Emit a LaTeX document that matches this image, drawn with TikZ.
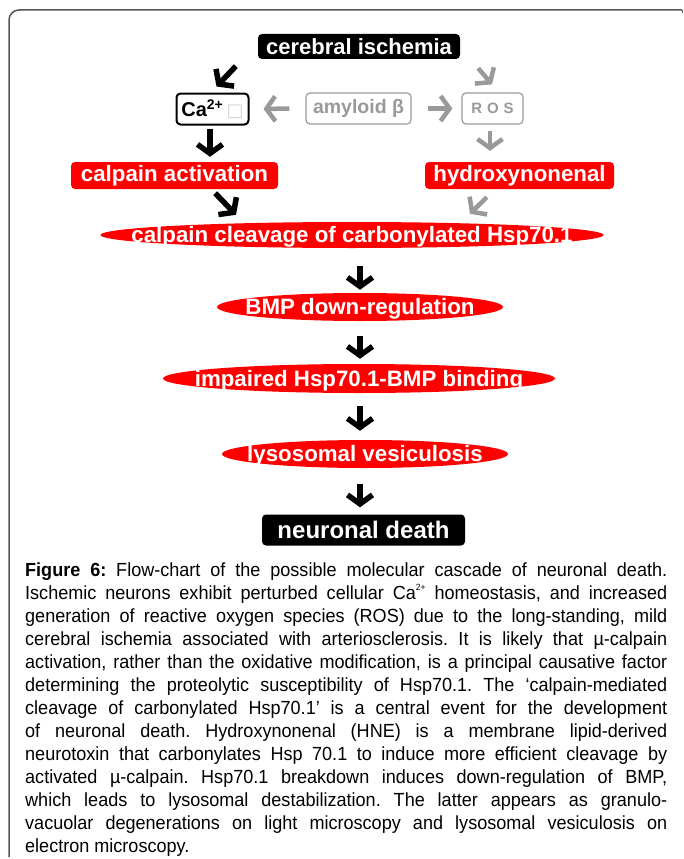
\documentclass[tikz,border=0pt]{standalone}
\usepackage{fontspec}
\setmainfont{Liberation Sans}
\newfontfamily\capfont{Liberation Sans}[FakeStretch=0.95]
\newfontfamily\symfont{DejaVu Sans}
\usetikzlibrary{arrows.meta,shapes.geometric}
\definecolor{lgray}{HTML}{999999}
\definecolor{framegray}{HTML}{555555}
\begin{document}
\begin{tikzpicture}[x=1pt,y=-1pt,
  lbl/.style={inner sep=0pt, font=\bfseries\fontsize{22.3}{22}\selectfont},
  blackbox/.style={lbl, fill=black, text=white, rounded corners=4pt},
  redbox/.style={lbl, fill=red, text=white, rounded corners=4pt},
  oval/.style 2 args={lbl, text=white, text depth=1pt, minimum width=#1, minimum height=#2,
    path picture={\fill[red] (path picture bounding box.center) ellipse [x radius=#1/2, y radius=#2/2];}},
  outlinebox/.style={lbl, draw, rounded corners=4pt},
  barrow/.style={line width=5.5pt, -{Straight Barb[length=9pt,width=25pt]}},
  garrow/.style={barrow, lgray, line width=4.5pt}
]
\useasboundingbox (0,0) rectangle (683,859);
% frame
\draw[framegray, line width=1.5pt, rounded corners=10pt] (9,857) -- (9,10) -- (682,10);
\draw[framegray, line width=1pt] (682,10) -- (682,13);

% nodes
\node[blackbox, minimum width=202pt, minimum height=25pt, font=\bfseries\fontsize{22}{22}\selectfont] (ci) at (359,46.5) {cerebral ischemia};
\node[outlinebox, draw=black, line width=2pt, minimum width=72pt, minimum height=31pt, font=\bfseries\fontsize{20}{20}\selectfont] (ca) at (212.5,109)
  {Ca\textsuperscript{2+}\,{\symfont\mdseries\color{gray!35}\fontsize{18}{18}\selectfont □}};
\node[outlinebox, draw=lgray, line width=1.2pt, text=lgray, minimum width=105pt, minimum height=31pt, font=\bfseries\fontsize{19.5}{19.5}\selectfont] (amy) at (358.5,108.5) {amyloid β};
\node[outlinebox, draw=lgray, line width=1.2pt, text=lgray, minimum width=61pt, minimum height=31pt, font=\bfseries\fontsize{15}{15}\selectfont] (ros) at (492.5,108.5) {R\,\,O\,\,S};
\node[redbox, minimum width=207pt, minimum height=27pt] (calp) at (174.5,175.5) {calpain activation};
\node[redbox, minimum width=189pt, minimum height=27pt] (hne) at (519.5,175.5) {hydroxynonenal};
\node[oval={503pt}{26pt}] (cl) at (352,235) {calpain cleavage of carbonylated Hsp70.1};
\node[oval={286pt}{28pt}] (bmp) at (360,307) {BMP down-regulation};
\node[oval={392pt}{29pt}] (imp) at (359,378.5) {impaired Hsp70.1-BMP binding};
\node[oval={286pt}{28pt}] (lys) at (365,454) {lysosomal vesiculosis};
\node[blackbox, minimum width=203pt, minimum height=31pt, font=\bfseries\fontsize{24}{24}\selectfont] (nd) at (363.5,530) {neuronal death};

% connectors
\draw[barrow] ([shift={(-22,7)}]ci.south west) -- ([shift={(-33,-6)}]ca.north east);
\draw[garrow] ([shift={(18,9)}]ci.south east) -- ([shift={(-0.5,-8)}]ros.north);
\draw[garrow] ([shift={(-16,0)}]amy.west) -- ([shift={(14,0)}]ca.east);
\draw[garrow] ([shift={(16,0)}]amy.east) -- ([shift={(-9,0)}]ros.west);
\draw[barrow] ([shift={(-2.5,3)}]ca.south) -- ([shift={(-2.5,-5)}]ca.south |- calp.north);
\draw[garrow] ([shift={(-2.5,6)}]ros.south) -- ([shift={(-2.5,-11)}]ros.south |- hne.north);
\draw[barrow] ([shift={(-63,4)}]calp.south east) -- ([shift={(-116,-7)}]cl.north);
\draw[garrow] ([shift={(62,8)}]hne.south west) -- ([shift={(118,-8)}]cl.north);
\draw[barrow] ([yshift=-18pt]bmp.north |- cl.south) -- ([yshift=3pt]bmp.north);
\draw[barrow] ([yshift=-15pt]bmp.south) -- ([yshift=5pt]bmp.south |- imp.north);
\draw[barrow] ([yshift=-13pt]bmp.south |- imp.south) -- ([yshift=9pt]bmp.south |- lys.north);
\draw[barrow] ([yshift=-16pt]bmp.south |- lys.south) -- ([yshift=7pt]bmp.south |- nd.north);

% caption
\node[anchor=base west, inner sep=0pt] (cap) at (25,576) {\parbox[t]{642pt}{\capfont\frenchspacing\fontsize{19}{23}\selectfont
\makebox[642pt][s]{\textbf{Figure 6:} Flow-chart of the possible molecular cascade of neuronal death.}\\
\makebox[642pt][s]{Ischemic neurons exhibit perturbed cellular Ca\raisebox{0.45em}{\fontsize{9}{9}\selectfont 2+} homeostasis, and increased}\\
\makebox[642pt][s]{generation of reactive oxygen species (ROS) due to the long-standing, mild}\\
\makebox[642pt][s]{cerebral ischemia associated with arteriosclerosis. It is likely that µ-calpain}\\
\makebox[642pt][s]{activation, rather than the oxidative modification, is a principal causative factor}\\
\makebox[642pt][s]{determining the proteolytic susceptibility of Hsp70.1. The ‘calpain-mediated}\\
\makebox[642pt][s]{cleavage of carbonylated Hsp70.1’ is a central event for the development}\\
\makebox[642pt][s]{of neuronal death. Hydroxynonenal (HNE) is a membrane lipid-derived}\\
\makebox[642pt][s]{neurotoxin that carbonylates Hsp 70.1 to induce more efficient cleavage by}\\
\makebox[642pt][s]{activated µ-calpain. Hsp70.1 breakdown induces down-regulation of BMP,}\\
\makebox[642pt][s]{which leads to lysosomal destabilization. The latter appears as granulo-}\\
\makebox[642pt][s]{vacuolar degenerations on light microscopy and lysosomal vesiculosis on}\\
electron microscopy.}};
\end{tikzpicture}
\end{document}
